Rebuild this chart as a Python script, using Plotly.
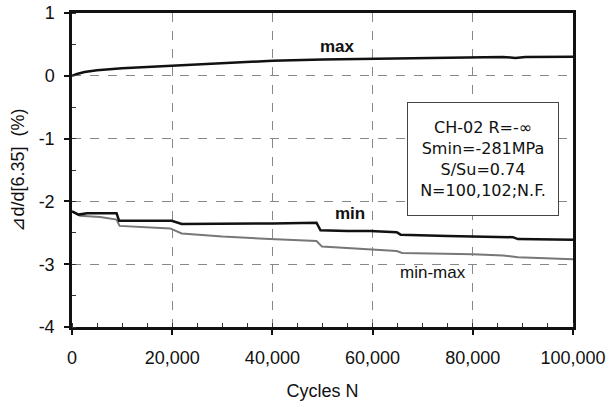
import plotly.graph_objects as go

# ---- data ----
max_x = [0, 1000, 2500, 5000, 10000, 15000, 20000, 30000, 40000, 50000, 60000,
         70000, 80000, 86000, 88500, 90500, 100000]
max_y = [0.00, 0.03, 0.06, 0.09, 0.12, 0.14, 0.16, 0.20, 0.24, 0.26, 0.27,
         0.285, 0.295, 0.30, 0.285, 0.30, 0.305]

min_x = [0, 1300, 3000, 6000, 8900, 9400, 15000, 19900, 21900, 30000, 40000,
         48800, 49600, 55000, 59500, 64800, 65600, 75000, 80000, 88000, 89000,
         95000, 100000]
min_y = [-2.16, -2.21, -2.19, -2.19, -2.19, -2.31, -2.31, -2.31, -2.36, -2.36, -2.35,
         -2.34, -2.46, -2.47, -2.47, -2.49, -2.53, -2.55, -2.56, -2.57, -2.60,
         -2.60, -2.61]

mm_x = [0, 1600, 5600, 8900, 9500, 15000, 19600, 21900, 30000, 39500, 48800,
        49900, 55000, 59500, 64800, 65900, 75000, 80000, 86000, 89000, 100000]
mm_y = [-2.16, -2.23, -2.25, -2.29, -2.39, -2.41, -2.43, -2.51, -2.56, -2.60, -2.63,
        -2.72, -2.74, -2.76, -2.79, -2.82, -2.83, -2.84, -2.86, -2.89, -2.92]

x_ticks = [0, 20000, 40000, 60000, 80000, 100000]
x_ticklabels = ["0", "20,000", "40,000", "60,000", "80,000", "100,000"]
y_ticks = [1, 0, -1, -2, -3, -4]
y_ticklabels = ["1", "0", "-1", "-2", "-3", "-4"]

info_lines = ["CH-02 R=-∞", "Smin=-281MPa", "S/Su=0.74", "N=100,102;N.F."]
series_labels = ["max", "min", "min-max"]

# ---- figure ----
fig = go.Figure()
fig.add_trace(go.Scatter(x=mm_x, y=mm_y, mode="lines",
                         line=dict(color="#777777", width=2), name="min-max"))
fig.add_trace(go.Scatter(x=min_x, y=min_y, mode="lines",
                         line=dict(color="#111111", width=2.5), name="min"))
fig.add_trace(go.Scatter(x=max_x, y=max_y, mode="lines",
                         line=dict(color="#111111", width=2.5), name="max"))

axis_font = dict(family="Liberation Sans, Arial, sans-serif", size=18, color="#111111")

fig.update_xaxes(
    range=[0, 100000], tickvals=x_ticks, ticktext=x_ticklabels,
    ticks="outside", ticklen=5, tickwidth=1.5, tickcolor="#111111",
    minor=dict(dtick=5000, ticks="inside", ticklen=4, tickwidth=1, tickcolor="#333333",
               showgrid=False),
    showgrid=True, gridcolor="#888888", gridwidth=1, griddash="dash",
    showline=True, linecolor="#111111", linewidth=2.5, mirror=True,
    zeroline=False, tickfont=axis_font, ticklabelstandoff=8, automargin=False,
    title=dict(text="Cycles N", font=axis_font, standoff=18),
)
fig.update_yaxes(
    range=[-4, 1], tickvals=y_ticks, ticktext=y_ticklabels,
    ticks="outside", ticklen=5, tickwidth=1.5, tickcolor="#111111",
    minor=dict(dtick=0.5, ticks="inside", ticklen=4, tickwidth=1, tickcolor="#333333",
               showgrid=False),
    showgrid=True, gridcolor="#888888", gridwidth=1, griddash="dash",
    showline=True, linecolor="#111111", linewidth=2.5, mirror=True,
    zeroline=False, tickfont=axis_font, ticklabelstandoff=6, automargin=False,
    title=dict(text="⊿d/d[6.35]  (%)", font=axis_font, standoff=10),
)

# info box
box_font = dict(family="DejaVu Sans, sans-serif", size=16, color="#111111")
fig.add_annotation(x=82000, y=-1.32, xref="x", yref="y", text="<br>".join(info_lines),
                   showarrow=False, font=box_font, xanchor="center", yanchor="middle",
                   align="center", width=148, height=110, bgcolor="white",
                   bordercolor="#444444", borderwidth=1, borderpad=1)

lab_font_b = dict(family="Liberation Sans, Arial, sans-serif", size=17, color="#111111")
fig.add_annotation(x=53000, y=0.47, text="<b>" + series_labels[0] + "</b>", showarrow=False,
                   font=lab_font_b, xanchor="center", yanchor="middle")
fig.add_annotation(x=55500, y=-2.20, text="<b>" + series_labels[1] + "</b>", showarrow=False,
                   font=lab_font_b, xanchor="center", yanchor="middle")
fig.add_annotation(x=72000, y=-3.14, text=series_labels[2], showarrow=False,
                   font=dict(family="Liberation Sans, Arial, sans-serif", size=17, color="#111111"),
                   xanchor="center", yanchor="middle")

fig.update_layout(
    width=610, height=407,
    margin=dict(l=72, r=37, t=13, b=80),
    paper_bgcolor="white", plot_bgcolor="white",
    showlegend=False,
)

fig.write_html("out.html", config={"displayModeBar": False},
               post_script="document.body.style.margin='0';document.body.style.overflow='hidden';")
